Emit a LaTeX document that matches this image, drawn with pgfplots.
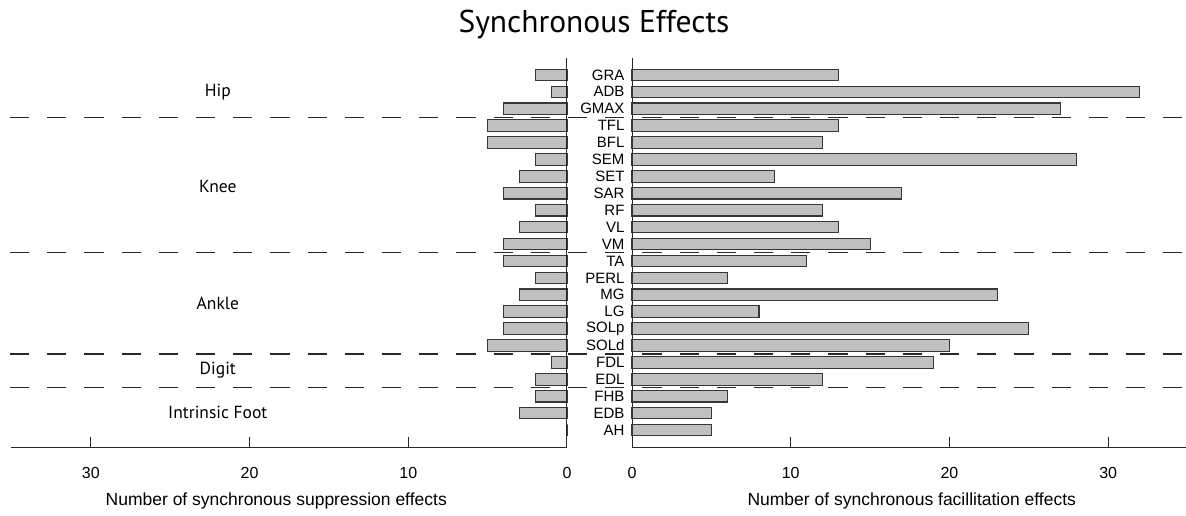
\documentclass[border=0pt]{standalone}
\usepackage{pgfplots}
\pgfplotsset{compat=1.18}
\usepackage{pgfplotstable}
\usepackage{fontspec}
\setmainfont{Liberation Sans}
\newfontfamily\headfont{PT Sans}

\definecolor{barfill}{RGB}{192,192,192}
\definecolor{bardraw}{RGB}{55,55,55}
\definecolor{axisgray}{RGB}{40,40,40}

% pos: row position (top = 21), fac: facilitation count, sup: suppression count
\pgfplotstableread{
pos name fac sup
21 GRA  13 2
20 ADB  32 1
19 GMAX 27 4
18 TFL  13 5
17 BFL  12 5
16 SEM  28 2
15 SET   9 3
14 SAR  17 4
13 RF   12 2
12 VL   13 3
11 VM   15 4
10 TA   11 4
9  PERL  6 2
8  MG   23 3
7  LG    8 4
6  SOLp 25 4
5  SOLd 20 5
4  FDL  19 1
3  EDL  12 2
2  FHB   6 2
1  EDB   5 3
0  AH    5 0
}\muscles

\pgfplotsset{
  effects/.style={
    scale only axis,
    width=555.5pt, height=390pt,
    xmin=0, xmax=35, ymin=-1.06, ymax=22,
    axis x line*=bottom,
    axis line style={axisgray, line width=1pt},
    xtick={0,10,20,30},
    xtick style={draw=none},
    ytick=\empty,
    /pgf/number format/assume math mode=true,
    tick label style={font=\fontsize{16}{19}\selectfont, text=black},
    xticklabel style={yshift=-16pt},
    xlabel style={font=\fontsize{17.5}{20}\selectfont, yshift=-7pt},
    clip=false,
  },
  effectbar/.style={xbar, bar width=0.68, fill=barfill, draw=bardraw, line width=1.1pt},
}
\tikzset{
  groupsep/.style={axisgray, line width=1.2pt, dash pattern=on 19.3pt off 17.9pt, dash phase=27.2pt},
  tickmark/.style={axisgray, line width=1pt},
}

\begin{document}
\begin{tikzpicture}[x=1pt,y=1pt]
\path[use as bounding box] (0,0) rectangle (1186,516);

% title
\node[anchor=base, font=\headfont\fontsize{31.5}{36}\selectfont] at (594,483) {Synchronous Effects};

% suppression side (bars grow to the left)
\begin{axis}[effects,
  at={(11.5pt,68pt)}, anchor=south west,
  x dir=reverse,
  axis y line=none,
  xlabel={Number of synchronous suppression effects},
  xlabel style={xshift=-13pt},
]
\addplot[effectbar] table[x=sup, y=pos] {\muscles};
\draw[axisgray, line width=1pt] (axis cs:0,-1.06) -- (axis cs:0,22);
% outward tick marks
\draw[tickmark] (axis cs:0,-1.06) -- ++(0,-7pt);
\draw[tickmark] (axis cs:10,-1.06) -- ++(0,-7pt);
\draw[tickmark] (axis cs:20,-1.06) -- ++(0,-7pt);
\draw[tickmark] (axis cs:30,-1.06) -- ++(0,-7pt);
% muscle-group separators across the whole figure
\draw[groupsep] (axis cs:35.73,18.5) -- (axis cs:-39.0,18.5);
\draw[groupsep] (axis cs:35.73,10.5) -- (axis cs:-39.0,10.5);
\draw[groupsep] (axis cs:35.73,4.5) -- (axis cs:-39.0,4.5);
\draw[groupsep] (axis cs:35.73,2.5) -- (axis cs:-39.0,2.5);
\begin{scope}[every node/.style={font=\headfont\fontsize{17.5}{20}\selectfont}]
\node at (axis cs:22,20) {Hip};
\node at (axis cs:22,14.43) {Knee};
\node at (axis cs:22,7.5) {Ankle};
\node at (axis cs:22,3.55) {Digit};
\node at (axis cs:22,1.06) {Intrinsic Foot};
\end{scope}
\end{axis}

% facilitation side (bars grow to the right)
\begin{axis}[effects,
  at={(632pt,68pt)}, anchor=south west,
  axis y line*=left,
  ytick={0,...,21},
  yticklabels={AH,EDB,FHB,EDL,FDL,SOLd,SOLp,LG,MG,PERL,TA,VM,VL,RF,SAR,SET,SEM,BFL,TFL,GMAX,ADB,GRA},
  ytick style={draw=none},
  yticklabel style={font=\fontsize{15}{18}\selectfont, xshift=-4pt},
  xlabel={Number of synchronous facillitation effects},
  xlabel style={xshift=2pt},
]
\addplot[effectbar] table[x=fac, y=pos] {\muscles};
% outward tick marks
\draw[tickmark] (axis cs:0,-1.06) -- ++(0,-7pt);
\draw[tickmark] (axis cs:10,-1.06) -- ++(0,-7pt);
\draw[tickmark] (axis cs:20,-1.06) -- ++(0,-7pt);
\draw[tickmark] (axis cs:30,-1.06) -- ++(0,-7pt);
\end{axis}
\end{tikzpicture}
\end{document}
